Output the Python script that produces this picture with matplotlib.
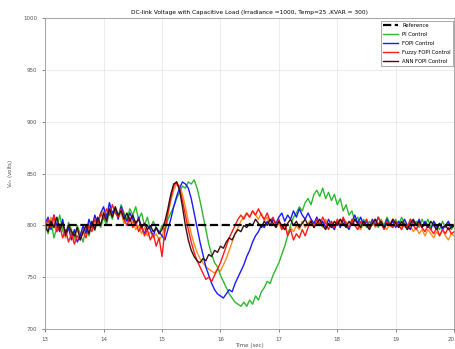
import matplotlib
matplotlib.use('Agg')
import matplotlib.pyplot as plt
import numpy as np

# time axis, 0.05 s steps from 13 s to 20 s
t = np.linspace(13, 20, 141)

ref_t = [13, 20]
ref_v = [800, 800]

pi_ctrl = [
    800, 792, 805, 788, 798, 810, 795, 790, 803, 796,
    788, 800, 792, 784, 798, 790, 802, 795, 806, 798,
    808, 800, 814, 806, 818, 808, 820, 812, 806, 816,
    810, 818, 806, 812, 800, 808, 796, 804, 798, 792,
    800, 794, 806, 812, 818, 826, 832, 838, 836, 842,
    840, 844, 836, 824, 810, 796, 782, 772, 764, 760,
    752, 746, 740, 734, 730, 726, 724, 722, 726, 722,
    728, 724, 732, 728, 736, 740, 746, 744, 752, 758,
    764, 772, 780, 790, 800, 808, 812, 818, 814, 822,
    826, 820, 830, 834, 828, 836, 826, 832, 824, 830,
    820, 826, 814, 820, 810, 814, 804, 808, 800, 806,
    798, 804, 800, 806, 798, 804, 800, 808, 802, 798,
    806, 800, 808, 802, 798, 806, 800, 804, 798, 806,
    800, 806, 798, 804, 800, 796, 804, 798, 802, 796,
    800]

fopi = [
    802, 808, 796, 810, 800, 794, 806, 790, 798, 786,
    796, 784, 790, 800, 792, 806, 798, 810, 802, 812,
    818, 808, 822, 812, 816, 806, 818, 810, 804, 812,
    806, 800, 808, 798, 792, 800, 796, 790, 798, 794,
    790, 786, 796, 806, 818, 828, 836, 842, 840, 836,
    826, 812, 798, 784, 772, 760, 752, 744, 738, 734,
    732, 730, 734, 738, 736, 744, 750, 756, 762, 770,
    776, 784, 790, 794, 800, 798, 804, 800, 806, 802,
    808, 812, 804, 810, 806, 814, 808, 816, 810, 806,
    812, 806, 802, 808, 800, 804, 798, 806, 800, 796,
    804, 798, 806, 800, 796, 804, 810, 802, 808, 800,
    804, 798, 806, 800, 808, 802, 798, 806, 800, 804,
    798, 804, 800, 806, 800, 796, 804, 800, 806, 798,
    804, 800, 796, 804, 798, 802, 796, 800, 804, 798,
    800]

fuzzy_fopi = [
    796, 806, 798, 810, 794, 800, 788, 796, 784, 792,
    782, 790, 786, 794, 788, 800, 794, 806, 800, 812,
    806, 816, 810, 820, 812, 808, 816, 806, 800, 808,
    798, 804, 794, 800, 790, 796, 786, 792, 780, 788,
    770, 796, 812, 826, 838, 842, 836, 824, 810, 796,
    784, 774, 766, 760, 754, 748, 750, 746, 752, 758,
    764, 772, 780, 788, 794, 800, 806, 810, 806, 812,
    808, 814, 810, 816, 810, 806, 812, 804, 808, 800,
    806, 796, 802, 790, 796, 786, 792, 788, 796, 790,
    798, 804, 798, 806, 800, 808, 802, 796, 804, 798,
    806, 800, 808, 802, 798, 806, 800, 796, 804, 800,
    806, 798, 804, 800, 808, 802, 796, 804, 800, 798,
    804, 800, 796, 802, 798, 806, 800, 796, 802, 798,
    794, 800, 796, 792, 798, 790, 796, 792, 798, 792,
    794]

ann_fopi = [
    800, 794, 804, 798, 808, 796, 802, 792, 800, 794,
    790, 798, 786, 794, 800, 792, 804, 796, 808, 800,
    812, 804, 816, 808, 818, 810, 814, 806, 812, 804,
    810, 802, 806, 798, 802, 796, 800, 794, 798, 792,
    796, 804, 816, 830, 840, 842, 834, 818, 800, 786,
    776, 770, 766, 764, 768, 766, 772, 770, 776, 774,
    780, 778, 784, 788, 786, 792, 796, 794, 800, 798,
    802, 800, 806, 802, 798, 804, 800, 806, 802, 798,
    804, 800, 796, 802, 806, 800, 804, 798, 802, 806,
    800, 804, 798, 802, 806, 800, 796, 802, 798, 804,
    800, 806, 802, 798, 804, 800, 806, 802, 798, 804,
    800, 796, 802, 806, 800, 804, 798, 802, 800, 806,
    802, 798, 804, 800, 796, 802, 806, 800, 804, 798,
    802, 798, 804, 800, 796, 802, 798, 800, 796, 798,
    800]

extra = [
    804, 798, 808, 800, 794, 802, 796, 788, 798, 792,
    786, 796, 790, 798, 794, 802, 798, 808, 804, 810,
    814, 806, 818, 810, 814, 808, 812, 802, 808, 800,
    804, 796, 800, 792, 798, 790, 794, 788, 792, 786,
    790, 798, 810, 824, 834, 840, 838, 830, 818, 804,
    792, 782, 774, 768, 764, 760, 758, 756, 754, 758,
    756, 762, 768, 776, 784, 792, 798, 804, 808, 812,
    808, 814, 810, 806, 812, 804, 808, 800, 806, 798,
    802, 796, 800, 792, 798, 794, 800, 796, 804, 798,
    802, 806, 800, 808, 802, 798, 806, 800, 804, 798,
    802, 806, 800, 804, 798, 802, 806, 800, 796, 802,
    806, 800, 804, 798, 802, 806, 800, 796, 802, 806,
    800, 804, 798, 802, 796, 800, 794, 798, 792, 796,
    790, 796, 792, 788, 794, 790, 796, 790, 786, 792,
    790]

fig = plt.figure(figsize=(4.56, 3.49), dpi=100)
ax = fig.add_axes([0.099, 0.057, 0.897, 0.891])

ax.plot(t, extra, color='#ff8c1a', lw=1.0)
ax.plot(t, pi_ctrl, color='#2db82d', lw=1.0, label='PI Control')
ax.plot(t, fopi, color='#1a1aff', lw=1.0, label='FOPI Control')
ax.plot(t, fuzzy_fopi, color='#ff1a1a', lw=1.0, label='Fuzzy FOPI Control')
ax.plot(t, ann_fopi, color='#3a1010', lw=1.0, label='ANN FOPI Control')
ax.plot(ref_t, ref_v, 'k--', lw=1.6, label='Reference')

ax.set_xlim(13, 20)
ax.set_ylim(700, 1000)
ax.set_xticks(range(13, 21))
ax.set_yticks(range(700, 1001, 50))
ax.grid(True, color='#e4e4e4', lw=0.5)
ax.tick_params(labelsize=4, length=2, width=0.5, colors='#555555')
xt = ax.get_xticklabels()
xt[-1].set_ha('right')
for s in ax.spines.values():
    s.set_color('#999999')
    s.set_linewidth(0.6)

ax.set_title('DC-link Voltage with Capacitive Load (Irradiance =1000, Temp=25 ,KVAR = 300)',
             fontsize=4.2, pad=3)
ax.set_ylabel('V$_{dc}$ (volts)', fontsize=4, color='#555555', labelpad=6)
ax.set_xlabel('Time (sec)', fontsize=4, color='#555555', labelpad=1)

h, l = ax.get_legend_handles_labels()
order = [4, 0, 1, 2, 3]
leg = ax.legend([h[i] for i in order], [l[i] for i in order],
                loc='upper right', bbox_to_anchor=(1.0, 0.995),
                fontsize=3.8, handlelength=2.8, borderaxespad=0.2,
                labelspacing=0.75, framealpha=1, fancybox=False,
                edgecolor='#888888')
leg.get_frame().set_linewidth(0.5)

fig.savefig('out.png', dpi=100)
